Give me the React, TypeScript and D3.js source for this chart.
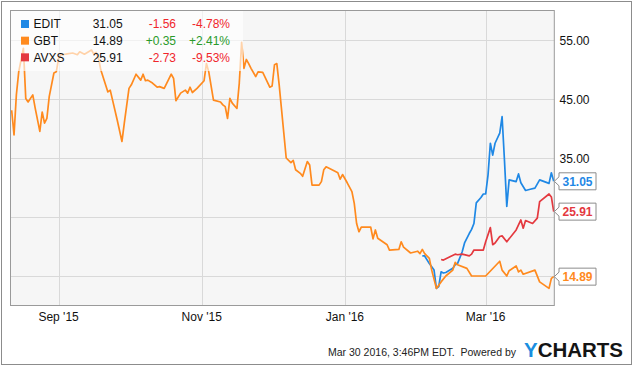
import React from "react";
import * as d3 from "d3";

const xTickDates = ["2015-09-01", "2015-11-01", "2016-01-01", "2016-03-01"];
const yGridValues = [15, 25, 35, 45, 55];
const yLabelValues = [35, 45, 55];

const editSeries: [string, number][] = [
  ["2016-02-03", 18.4], ["2016-02-04", 18.4], ["2016-02-06", 17.1], ["2016-02-08", 16.0], ["2016-02-09", 12.9],
  ["2016-02-10", 13.2], ["2016-02-11", 15.7], ["2016-02-12", 15.5], ["2016-02-13", 15.6], ["2016-02-16", 16.3],
  ["2016-02-17", 16.9], ["2016-02-18", 17.1], ["2016-02-20", 19.1], ["2016-02-21", 20.6], ["2016-02-23", 22.2],
  ["2016-02-24", 22.9], ["2016-02-25", 23.9], ["2016-02-26", 27.4], ["2016-02-28", 28.3], ["2016-02-29", 28.9],
  ["2016-03-01", 28.9], ["2016-03-02", 32.1], ["2016-03-03", 37.5], ["2016-03-04", 35.5], ["2016-03-05", 37.5],
  ["2016-03-07", 39.2], ["2016-03-08", 42.0], ["2016-03-09", 34.7], ["2016-03-10", 26.8], ["2016-03-11", 31.3],
  ["2016-03-14", 31.0], ["2016-03-15", 32.3], ["2016-03-16", 30.8], ["2016-03-18", 29.5], ["2016-03-20", 29.7],
  ["2016-03-22", 29.9], ["2016-03-24", 31.3], ["2016-03-28", 30.7], ["2016-03-29", 32.5], ["2016-03-30", 31.05],
];

const gbtSeries: [string, number][] = [
  ["2015-08-12", 43.1], ["2015-08-13", 38.9], ["2015-08-14", 45.7], ["2015-08-15", 49.6], ["2015-08-17", 53.6],
  ["2015-08-18", 45.1], ["2015-08-19", 44.5], ["2015-08-21", 45.7], ["2015-08-22", 43.5], ["2015-08-24", 39.5],
  ["2015-08-25", 42.8], ["2015-08-26", 40.9], ["2015-08-27", 41.7], ["2015-08-28", 45.4], ["2015-08-30", 49.4],
  ["2015-08-31", 49.6], ["2015-09-01", 51.9], ["2015-09-02", 52.5], ["2015-09-04", 52.6], ["2015-09-07", 52.8],
  ["2015-09-09", 52.5], ["2015-09-10", 53.0], ["2015-09-12", 52.6], ["2015-09-15", 53.3], ["2015-09-16", 52.6],
  ["2015-09-17", 52.9], ["2015-09-18", 51.9], ["2015-09-19", 49.9], ["2015-09-22", 46.2], ["2015-09-23", 46.5],
  ["2015-09-24", 44.8], ["2015-09-26", 41.4], ["2015-09-28", 37.8], ["2015-09-29", 40.9], ["2015-10-01", 46.8],
  ["2015-10-02", 47.4], ["2015-10-04", 49.2], ["2015-10-06", 48.2], ["2015-10-07", 49.2], ["2015-10-08", 48.1],
  ["2015-10-09", 48.2], ["2015-10-11", 47.7], ["2015-10-13", 47.0], ["2015-10-14", 47.1], ["2015-10-16", 46.8],
  ["2015-10-19", 49.2], ["2015-10-20", 48.5], ["2015-10-21", 44.7], ["2015-10-23", 46.0], ["2015-10-25", 46.5],
  ["2015-10-26", 46.0], ["2015-10-27", 47.0], ["2015-10-28", 46.1], ["2015-10-30", 46.8], ["2015-11-02", 48.1],
  ["2015-11-03", 51.0], ["2015-11-04", 49.6], ["2015-11-06", 44.8], ["2015-11-09", 44.5], ["2015-11-10", 44.0],
  ["2015-11-11", 43.7], ["2015-11-12", 41.7], ["2015-11-13", 45.1], ["2015-11-14", 44.3], ["2015-11-16", 43.4],
  ["2015-11-17", 47.7], ["2015-11-18", 54.6], ["2015-11-19", 50.2], ["2015-11-20", 51.7], ["2015-11-21", 51.0],
  ["2015-11-22", 50.2], ["2015-11-24", 48.8], ["2015-11-25", 49.6], ["2015-11-27", 49.5], ["2015-11-30", 47.0],
  ["2015-12-01", 47.2], ["2015-12-02", 50.8], ["2015-12-03", 51.0], ["2015-12-04", 47.4], ["2015-12-07", 35.0],
  ["2015-12-09", 34.2], ["2015-12-10", 34.6], ["2015-12-11", 33.0], ["2015-12-13", 32.4], ["2015-12-14", 31.9],
  ["2015-12-16", 34.4], ["2015-12-17", 33.8], ["2015-12-18", 30.4], ["2015-12-21", 30.4], ["2015-12-22", 31.0],
  ["2015-12-23", 33.0], ["2015-12-24", 33.5], ["2015-12-28", 32.7], ["2015-12-29", 32.5], ["2015-12-30", 31.4],
  ["2015-12-31", 32.2], ["2016-01-02", 30.8], ["2016-01-04", 29.3], ["2016-01-05", 27.3], ["2016-01-06", 23.9],
  ["2016-01-07", 22.5], ["2016-01-08", 23.3], ["2016-01-12", 23.3], ["2016-01-13", 21.3], ["2016-01-14", 22.8],
  ["2016-01-15", 21.4], ["2016-01-19", 20.3], ["2016-01-20", 19.4], ["2016-01-24", 19.5], ["2016-01-25", 20.8],
  ["2016-01-26", 19.9], ["2016-01-29", 18.9], ["2016-02-01", 19.2], ["2016-02-02", 18.8], ["2016-02-03", 19.5],
  ["2016-02-04", 18.8], ["2016-02-06", 18.0], ["2016-02-07", 16.0], ["2016-02-09", 12.9], ["2016-02-11", 14.0],
  ["2016-02-13", 15.0], ["2016-02-16", 16.0], ["2016-02-17", 17.3], ["2016-02-18", 16.9], ["2016-02-22", 16.3],
  ["2016-02-24", 15.0], ["2016-03-01", 15.0], ["2016-03-07", 17.5], ["2016-03-08", 16.0], ["2016-03-10", 15.0],
  ["2016-03-11", 15.9], ["2016-03-14", 16.7], ["2016-03-15", 15.7], ["2016-03-16", 16.0], ["2016-03-17", 15.3],
  ["2016-03-22", 16.0], ["2016-03-24", 14.0], ["2016-03-28", 12.9], ["2016-03-29", 14.6], ["2016-03-30", 14.89],
];

const avxsSeries: [string, number][] = [
  ["2016-02-11", 17.8], ["2016-02-12", 17.7], ["2016-02-15", 18.3], ["2016-02-17", 18.7], ["2016-02-18", 18.6],
  ["2016-02-20", 18.7], ["2016-02-23", 18.4], ["2016-02-24", 18.7], ["2016-02-25", 19.4], ["2016-02-29", 19.4],
  ["2016-03-01", 20.8], ["2016-03-03", 23.2], ["2016-03-04", 20.3], ["2016-03-05", 20.6], ["2016-03-07", 21.7],
  ["2016-03-08", 21.8], ["2016-03-10", 20.8], ["2016-03-14", 22.8], ["2016-03-16", 24.5], ["2016-03-17", 23.1],
  ["2016-03-18", 24.4], ["2016-03-21", 23.9], ["2016-03-23", 24.8], ["2016-03-24", 27.6], ["2016-03-28", 28.9],
  ["2016-03-29", 28.4], ["2016-03-30", 25.91],
];

const seriesNames = ["EDIT", "GBT", "AVXS"];
const seriesColors = ["#1f88e5", "#ff8a1e", "#e4393f"];
const lastValues = ["31.05", "14.89", "25.91"];
const changeValues = ["-1.56", "+0.35", "-2.73"];
const changePcts = ["-4.78%", "+2.41%", "-9.53%"];
const footerText = "Mar 30 2016, 3:46PM EDT.  Powered by";

const FONT = "Arial, 'Liberation Sans', Helvetica, sans-serif";
const W = 635;
const H = 366;
const plotL = 10.5;
const plotR = 554.3;
const plotT = 10.5;
const plotB = 305.5;

export default function App() {
  const parse = d3.timeParse("%Y-%m-%d");
  const x = d3
    .scaleTime()
    .domain([new Date(2015, 7, 11, 12), new Date(2016, 2, 30, 6)])
    .range([plotL, plotR]);
  const y = d3.scaleLinear().domain([10, 60]).range([plotB, plotT]);
  const fmtX = d3.timeFormat("%b '%y");
  const line = d3
    .line<[string, number]>()
    .x((d) => x(parse(d[0]) as Date))
    .y((d) => y(d[1]));
  const allSeries = [editSeries, gbtSeries, avxsSeries];
  const crisp = (v: number) => Math.round(v) + 0.5;

  return (
    <svg
      width={W}
      height={H}
      style={{ position: "absolute", left: 0, top: 0, background: "#fff" }}
      fontFamily={FONT}
    >
      <rect x={1.5} y={1.5} width={630} height={363} fill="#fff" stroke="#8c8c8c" />
      <rect x={plotL} y={plotT} width={plotR - plotL} height={plotB - plotT} fill="#f6f6f6" />
      {yGridValues.map((v) => (
        <line key={"gy" + v} x1={plotL} x2={plotR} y1={crisp(y(v))} y2={crisp(y(v))} stroke="#d9d9d9" />
      ))}
      {xTickDates.map((d) => {
        const xx = crisp(x(parse(d) as Date));
        return <line key={"gx" + d} x1={xx} x2={xx} y1={plotT} y2={plotB} stroke="#d9d9d9" />;
      })}
      {allSeries.map((s, i) => (
        <path
          key={"s" + i}
          d={line(s) || ""}
          fill="none"
          stroke={seriesColors[i]}
          strokeWidth={1.7}
          strokeLinejoin="round"
        />
      ))}
      <rect x={11} y={11} width={232} height={60} fill="#fff" opacity={0.62} />
      {seriesNames.map((n, i) => {
        const cy = 24 + i * 16.67;
        const chColor = changeValues[i].startsWith("+") ? "#2a9a2a" : "#f0262c";
        return (
          <g key={"lg" + n} fontSize={12}>
            <rect x={21} y={cy - 4} width={8} height={8} fill={seriesColors[i]} />
            <text x={33.5} y={cy + 4.3} fill="#111">{n}</text>
            <text x={122.7} y={cy + 4.3} fill="#111" textAnchor="end">{lastValues[i]}</text>
            <text x={176} y={cy + 4.3} fill={chColor} textAnchor="end">{changeValues[i]}</text>
            <text x={230} y={cy + 4.3} fill={chColor} textAnchor="end">{changePcts[i]}</text>
          </g>
        );
      })}
      <rect
        x={plotL}
        y={plotT}
        width={plotR - plotL}
        height={plotB - plotT}
        fill="none"
        stroke="#9a9a9a"
      />
      {yLabelValues.map((v) => (
        <text key={"yl" + v} x={559.5} y={y(v) + 4.5} fontSize={12} fill="#111">
          {v.toFixed(2)}
        </text>
      ))}
      {xTickDates.map((d) => (
        <text
          key={"xl" + d}
          x={x(parse(d) as Date)}
          y={320.5}
          fontSize={12}
          fill="#111"
          textAnchor="middle"
        >
          {fmtX(parse(d) as Date)}
        </text>
      ))}
      {allSeries.map((s, i) => {
        const last = s[s.length - 1];
        const cy = y(last[1]);
        const bl = 559;
        const br = 596;
        const top = cy - 8.5;
        const bot = cy + 8.5;
        const p = `M${br},${top} L${bl},${top} L${bl},${cy - 4.5} L${plotR},${cy} L${bl},${cy + 4.5} L${bl},${bot} L${br},${bot} Z`;
        return (
          <g key={"vl" + i}>
            <path d={p} fill="#fff" stroke="#8c8c8c" strokeWidth={1} />
            <text
              x={(bl + br) / 2}
              y={cy + 4.4}
              fontSize={12}
              fontWeight="bold"
              fill={seriesColors[i]}
              textAnchor="middle"
            >
              {lastValues[i]}
            </text>
          </g>
        );
      })}
      <text
        x={328}
        y={356}
        fontSize={11}
        fill="#222"
        textLength={188}
        lengthAdjust="spacingAndGlyphs"
        style={{ whiteSpace: "pre" }}
      >
        {footerText}
      </text>
      <text x={524} y={357.3} fontSize={21} fontWeight="bold" textLength={99} lengthAdjust="spacingAndGlyphs">
        <tspan fill="#1a8ee0">Y</tspan>
        <tspan fill="#141414">CHARTS</tspan>
      </text>
    </svg>
  );
}
